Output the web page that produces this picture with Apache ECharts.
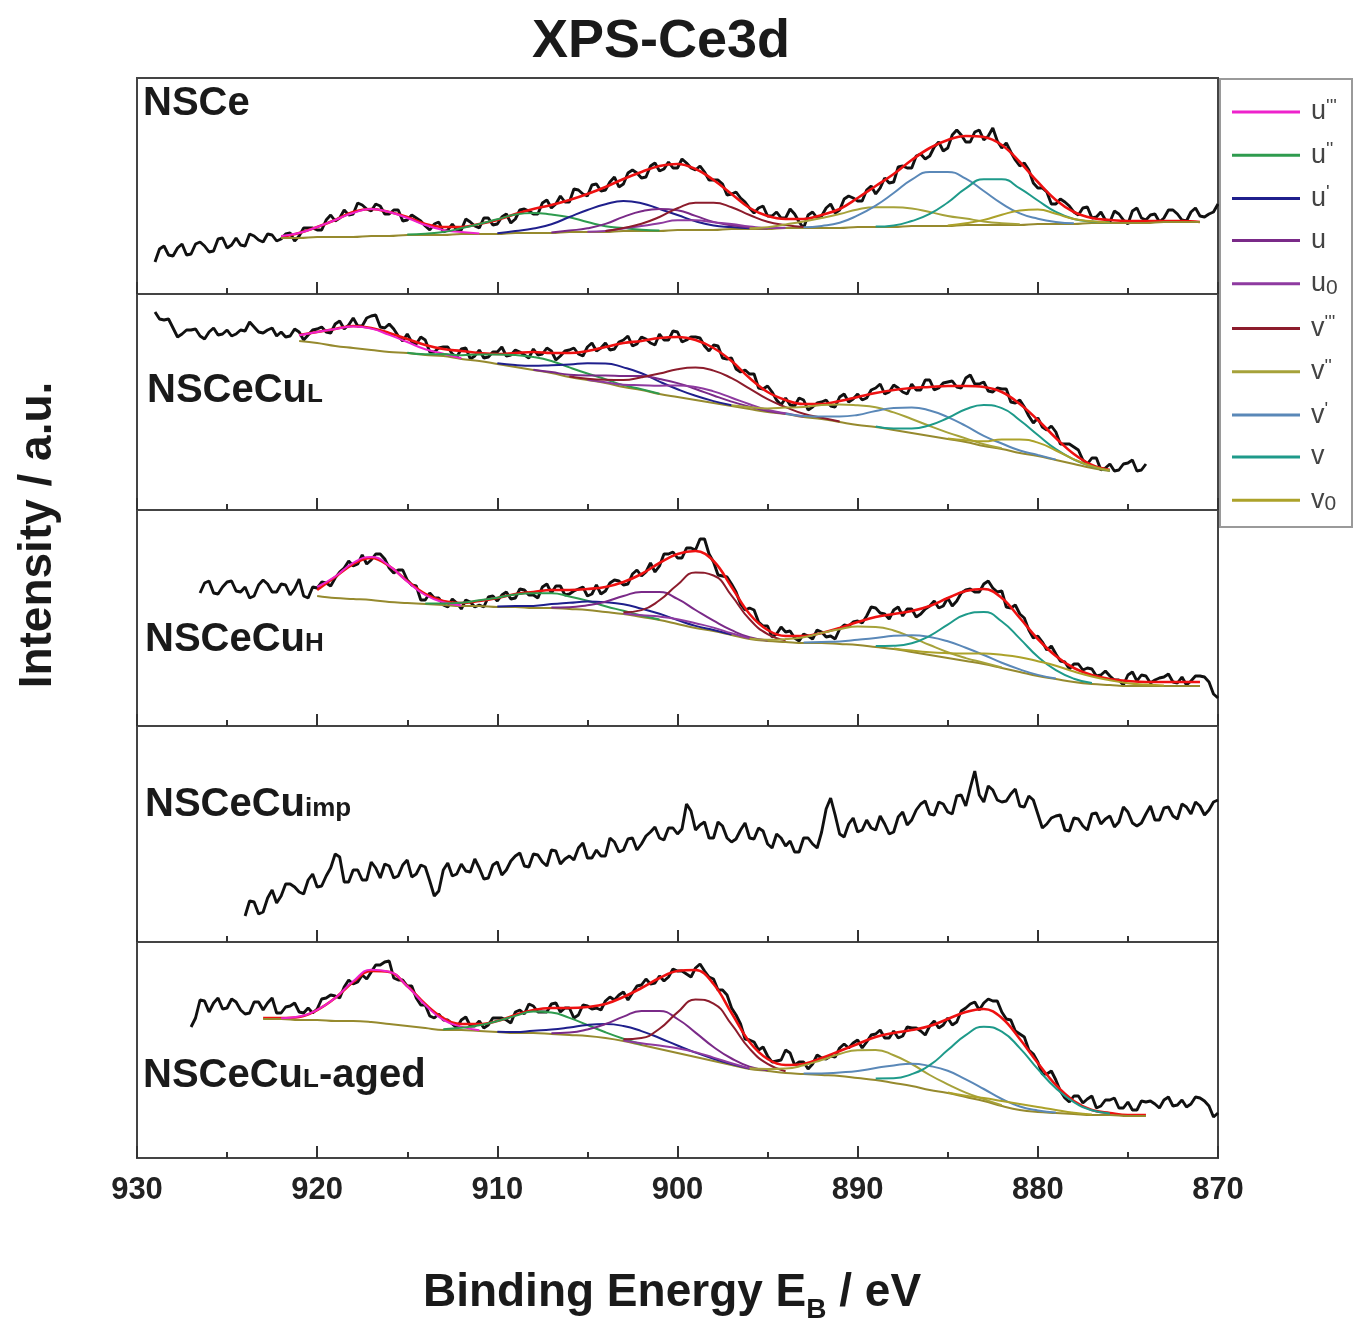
<!DOCTYPE html>
<html>
<head>
<meta charset="utf-8">
<title>XPS-Ce3d</title>
<script src="https://cdn.jsdelivr.net/npm/echarts@6.0.0/dist/echarts.min.js"></script>
<style>
  html, body { margin: 0; padding: 0; background: #fff; }
  #chart { width: 1354px; height: 1318px; }
</style>
</head>
<body>
<div id="chart"></div>
<script>
// ---------------------------------------------------------------
// Ce 3d XPS spectra of five samples with their peak deconvolution.
// Raw spectra are sampled every 0.25 eV (descending binding energy),
// background / envelope / peak components every 1 eV.
// Intensities are in arbitrary units (panel scale 0..216).
// ---------------------------------------------------------------
const RAW_STEP = 0.25;
const FIT_STEP = 1;

const PEAK_NAMES = ["u'''", "u''", "u'", "u", "u0", "v'''", "v''", "v'", "v", "v0"];
const PEAK_COLORS = ['#ee22cc', '#2e9b4e', '#1f1f8c', '#7a2a88', '#8e3aa0',
                     '#8c1c2c', '#a6a23a', '#5a88b8', '#1e9a8a', '#aca22a'];
const PANEL_LABELS = ['NSCe', 'NSCeCuL', 'NSCeCuH', 'NSCeCuimp', 'NSCeCuL-aged'];

// ---------- NSCe ----------
const NSCe_rawFrom = 929.0;
const NSCe_raw = [32,45,48,39,38,46,50,39,40,50,52,48,42,43,55,56,46,49,56,49,
  48,60,58,54,52,60,59,53,55,60,61,53,58,66,66,66,64,64,74,79,
  73,76,84,79,80,91,89,85,83,90,88,80,80,84,84,73,74,79,76,73,
  68,64,70,72,62,64,70,64,64,75,72,68,66,76,76,69,70,77,80,71,
  75,84,85,83,80,80,91,94,86,90,98,92,92,105,104,100,98,109,110,103,
  104,112,117,107,110,121,124,121,116,117,128,131,123,125,132,126,126,135,131,126,
  124,128,122,114,114,114,110,99,100,102,96,92,86,81,86,88,78,78,82,76,
  76,85,80,72,66,79,82,76,78,86,90,81,84,95,98,96,93,93,104,108,
  100,106,116,111,112,127,128,126,126,138,140,135,138,147,152,143,146,159,164,159,
  152,152,162,164,154,158,166,153,146,151,142,134,128,131,124,111,106,106,102,90,
  90,95,92,88,82,79,86,87,76,77,82,74,72,83,80,74,70,83,86,76,
  74,79,80,72,76,84,84,80,74,73,82,86,78,77,80,82,90];
const NSCe_fitFrom = 922;
const NSCe_bg = [56,56,57,57,57,58,58,59,59,59, 60,60,60,61,61,61,62,62,62,63,
  63,63,64,64,64,65,65,65,66,66, 66,66,67,67,67,68,68,68,69,69,
  69,69,70,70,70,71,71,71,71,72, 72,72];
const NSCe_env = [57,61,67,74,82,85,82,77,70,67, 67,70,74,80,85,89,94,100,107,115,
  122,128,130,125,114,100,86,78,75,75, 79,85,96,108,120,134,146,154,158,157,
  149,132,112,94,82,76,74,73,73,73, 73,72];
const NSCe_peakFrom = [922, 915, 910, 907, 905, 904, 896, 893, 889, 885];
const NSCe_u3 = [2,5,10,17,24,27,24,17,10,5,2,0.5];
const NSCe_u2 = [0.5,1.3,2.9,5.8,10,14.7,18.5,20,18.5,14.7,10,5.8,2.9,1.3,0.5];
const NSCe_u1 = [0.7,1.9,4.4,8.7,15,22,27.8,30,27.8,22,15,8.7,4.4,1.9,0.7];
const NSCe_u  = [0.4,1.4,3.7,8.1,14.1,19.7,22,19.7,14.1,8.1,3.7,1.4,0.4];
const NSCe_u0 = [0.35,1.1,2.6,5,7.8,9.7,9.7,7.8,5,2.6,1.1,0.35];
const NSCe_v3 = [1,3,7.2,14,21.8,27.2,27.2,21.8,14,7.2,3,1];
const NSCe_v2 = [0.8,1.8,3.6,6.4,10,14,17.6,19.7,19.7,17.6,14,10,6.4,3.6,1.8,0.8];
const NSCe_v1 = [0.7,2.1,5.3,11.6,21.4,34,46.3,54,54,46.3,34,21.4,11.6,5.3,2.1,0.7];
const NSCe_v  = [0.4,1.6,5,12.1,23.5,36.6,45.7,45.7,36.6,23.5,12.1,5,1.6,0.4];
const NSCe_v0 = [0.45,1.8,5.1,10.2,14.4,14.4,10.2,5.1,1.8,0.45];

// ---------- NSCeCuL ----------
const NSCeCuL_rawFrom = 929.0;
const NSCeCuL_raw = [198,191,190,191,182,173,176,180,180,181,174,171,178,182,175,176,180,174,176,180,
  179,188,183,178,177,180,182,174,178,173,174,181,178,170,175,180,181,183,178,177,
  186,189,181,185,192,184,184,192,194,195,183,182,186,181,174,169,176,168,166,173,
  170,158,158,162,163,163,156,153,161,162,151,154,160,152,153,158,158,163,154,155,
  160,158,155,152,161,155,156,162,159,150,154,159,160,162,156,154,163,167,159,162,
  167,160,161,168,170,174,164,166,173,171,167,165,176,170,170,179,178,168,170,173,
  173,172,164,159,165,164,152,151,152,141,138,140,136,136,122,121,124,118,110,105,
  112,105,104,112,110,100,103,107,108,110,104,103,113,116,108,111,116,110,112,120,
  122,126,116,118,125,122,118,116,126,120,120,130,130,120,122,127,128,129,123,122,
  132,135,126,126,128,119,118,122,121,121,108,107,110,103,94,87,92,83,80,84,
  78,66,66,66,63,60,50,46,52,52,40,42,46,39,40,46,47,50,39,40,
  46];
const NSCeCuL_fitFrom = 921;
const NSCeCuL_bg = [169,167,164,162,160,158,157,155,154,151, 149,146,143,140,137,133,130,127,123,120,
  116,113,110,107,104,101,98,96,93,91, 88,85,83,80,77,74,71,68,64,61,
  57,54,50,46,42,39];
const NSCeCuL_env = [175,178,181,184,182,177,171,165,161,159, 157,156,157,158,157,157,159,163,167,169,
  172,173,170,162,149,132,118,110,106,106, 109,113,117,120,122,123,124,124,123,118,
  106,90,72,56,45,40];
const NSCeCuL_peakFrom = [921, 915, 910, 908, 905, 906, 897, 894, 889, 885];
const NSCeCuL_u3 = [5.7,11,17.1,21.4,21.4,17.1,11,5.7,2.3,0.8];
const NSCeCuL_u2 = [0.3,0.8,1.9,3.8,6.5,9.6,12,13,12,9.6,6.5,3.8,1.9,0.8,0.3];
const NSCeCuL_u1 = [0.8,1.9,4.2,7.8,12.4,16.8,19.6,19.6,16.8,12.4,7.8,4.2,1.9,0.8];
const NSCeCuL_u  = [0.35,0.9,2.2,4.4,7.5,11,13.9,15,13.9,11,7.5,4.4,2.2,0.9,0.35];
const NSCeCuL_u0 = [0.2,0.8,2.2,4.8,8.3,11.6,13,11.6,8.3,4.8,2.2,0.8,0.2];
const NSCeCuL_v3 = [0.4,1.3,3.2,6.9,12.8,20.4,27.8,32.4,32.4,27.8,20.4,12.8,6.9,3.2,1.3,0.4];
const NSCeCuL_v2 = [0.8,1.8,3.6,6.4,10,14,17.6,19.7,19.7,17.6,14,10,6.4,3.6,1.8,0.8];
const NSCeCuL_v1 = [0.35,1,2.5,5.5,10.1,16.1,21.9,25.5,25.5,21.9,16.1,10.1,5.5,2.5,1,0.35];
const NSCeCuL_v  = [0.4,1.5,4.5,10.8,21,32.7,40.9,40.9,32.7,21,10.8,4.5,1.5,0.4];
const NSCeCuL_v0 = [0.4,1.7,4.7,9.5,13.4,13.4,9.5,4.7,1.7,0.4];

// ---------- NSCeCuH ----------
const NSCeCuH_rawFrom = 926.5;
const NSCeCuH_raw = [133,143,145,133,132,139,144,145,135,134,139,128,130,141,146,142,134,134,142,141,
  131,137,147,130,128,139,138,144,143,140,148,154,158,165,160,162,171,162,166,172,
  172,167,158,153,156,156,146,141,140,126,126,133,128,128,121,119,127,123,117,126,
  124,119,121,119,129,130,125,131,134,127,128,137,136,131,131,128,139,142,133,140,
  140,131,132,135,137,139,130,132,141,132,135,143,146,145,141,142,152,156,150,154,
  163,154,160,172,172,174,168,168,178,178,176,187,187,172,164,151,150,149,142,134,
  122,116,118,116,104,100,100,89,92,99,94,95,88,85,92,90,87,96,94,89,
  90,87,97,101,100,104,105,103,110,119,118,113,112,107,116,119,110,117,117,109,
  112,117,120,125,118,120,128,120,125,133,136,137,134,134,142,145,138,134,135,119,
  118,121,112,108,96,88,90,84,76,80,72,65,64,57,62,62,56,58,57,50,
  51,55,50,46,46,41,51,54,45,51,50,43,46,48,49,52,44,43,49,41,
  45,50,50,49,44,32,28];
const NSCeCuH_fitFrom = 920;
const NSCeCuH_bg = [130,128,127,126,124,123,122,121,120,120, 119,119,118,118,117,116,114,112,109,106,
  102,98,95,91,87,85,84,83,83,82, 81,79,77,74,71,68,65,62,58,54,
  50,47,44,42,41,40,40,40,40,40];
const NSCeCuH_env = [136,149,162,168,160,145,132,125,123,125, 128,132,134,136,136,137,139,144,152,163,
  172,175,165,139,112,96,90,90,93,98, 104,109,112,115,120,128,135,137,128,108,
  87,70,58,51,47,45,44,44,44,44];
const NSCeCuH_peakFrom = [920, 914, 910, 907, 903, 903, 896, 893, 889, 888];
const NSCeCuH_u3 = [9,21.5,36.2,43,36.2,21.5,9,2.7,0.6];
const NSCeCuH_u2 = [0.6,1.5,3.2,5.8,9.3,12.6,14.7,14.7,12.6,9.3,5.8,3.2,1.5,0.6];
const NSCeCuH_u1 = [0.4,1,2.1,3.9,6.2,8.4,9.8,9.8,8.4,6.2,3.9,2.1,1,0.4];
const NSCeCuH_u  = [0.5,1.75,4.8,10.3,18,25.1,28,25.1,18,10.3,4.8,1.75,0.5];
const NSCeCuH_u0 = [0.6,1.7,3.4,4.8,4.8,3.4,1.7,0.6];
const NSCeCuH_v3 = [1.7,6.9,19.7,39.3,55.5,55.5,39.3,19.7,6.9,1.7];
const NSCeCuH_v2 = [0.46,1.25,2.9,5.8,10,14.7,18.5,20,18.5,14.7,10,5.8,2.9,1.25,0.46];
const NSCeCuH_v1 = [0.4,1.1,2.6,5.2,9,13.2,16.7,18,16.7,13.2,9,5.2,2.6,1.1,0.4];
const NSCeCuH_v  = [0.94,3.25,8.8,19.2,33.4,46.5,52,46.5,33.4,19.2,8.8,3.25,0.94];
const NSCeCuH_v0 = [0.6,1.4,2.7,4.8,7.5,10.5,13.2,14.8,14.8,13.2,10.5,7.5,4.8,2.7,1.4,0.6];

// ---------- NSCeCuimp (no fit) ----------
const NSCeCuimp_rawFrom = 924.0;
const NSCeCuimp_raw = [26,41,40,28,30,44,52,39,46,58,58,55,50,48,62,68,55,56,66,74,
  88,85,60,60,72,72,62,62,80,74,64,78,76,64,66,77,82,65,68,77,
  75,61,46,51,72,79,66,68,78,71,70,83,74,63,64,77,80,67,72,81,
  86,89,76,75,88,87,80,76,92,91,78,83,86,82,94,99,84,84,92,86,
  86,104,100,90,92,103,104,92,98,106,110,115,104,102,114,114,108,113,138,131,
  112,117,120,104,104,120,116,104,100,103,112,119,104,103,114,111,98,94,108,104,
  96,101,90,90,104,104,98,94,110,133,144,127,108,105,118,124,110,112,122,114,
  112,126,118,108,110,125,130,117,122,132,138,141,128,127,140,138,130,128,146,147,
  136,154,171,147,140,156,152,142,140,141,148,153,136,135,146,142,128,114,118,124,
  126,127,112,111,124,123,116,112,128,129,118,123,126,115,120,135,130,119,116,119,
  128,136,122,122,134,135,126,123,138,135,128,140,136,127,132,140,142];

// ---------- NSCeCuL-aged ----------
const NSCeCuLaged_rawFrom = 927.0;
const NSCeCuLaged_raw = [131,140,158,157,146,155,160,149,150,159,156,148,144,145,156,156,148,155,160,145,
  145,151,152,155,146,145,150,145,149,159,160,163,162,160,171,178,174,176,183,179,
  186,193,193,196,197,180,178,178,172,172,160,153,153,142,140,144,138,138,134,130,
  138,141,132,132,137,130,133,140,140,140,138,135,146,148,144,154,152,146,146,146,
  154,155,146,150,150,140,143,153,152,149,150,148,157,161,158,163,166,158,165,172,
  173,179,174,175,182,177,181,189,187,187,184,181,190,194,187,181,179,168,168,163,
  150,143,134,119,118,116,108,111,102,96,97,98,108,105,93,96,96,89,94,103,
  100,99,102,101,110,114,110,115,118,110,116,123,124,128,120,120,127,120,122,131,
  130,130,127,123,132,137,130,133,140,133,136,147,150,154,156,148,155,159,157,157,
  146,139,138,127,124,121,108,104,96,84,84,87,78,67,60,56,62,62,55,59,
  62,50,52,58,58,60,50,50,56,48,48,57,56,57,54,50,58,61,52,53,
  58,51,54,61,60,57,52,41,45];
const NSCeCuLaged_fitFrom = 923;
const NSCeCuLaged_bg = [139,139,138,138,137,137,136,134,132,130, 128,128,127,126,125,125,124,123,122,120,
  117,113,109,105,101,97,93,89,87,85, 84,83,82,80,78,75,72,68,65,61,
  57,52,48,46,45,44,43,43,42,42];
const NSCeCuLaged_env = [140,140,141,148,160,176,187,186,172,154, 140,134,134,137,143,148,150,150,151,154,
  161,170,180,187,188,174,145,116,99,93, 94,100,107,114,121,125,128,132,139,146,
  149,140,119,95,73,57,48,45,43,43];
const NSCeCuLaged_peakFrom = [922, 913, 910, 907, 903, 903, 896, 893, 889, 885];
const NSCeCuLaged_u3 = [0.86,3.4,10.1,23,39.7,52.2,52.2,39.7,23,10.1,3.4,0.86];
const NSCeCuLaged_u2 = [0.8,2.3,5.7,11,17.1,21.4,21.4,17.1,11,5.7,2.3,0.8];
const NSCeCuLaged_u1 = [0.35,0.9,2.2,4.4,7.5,11,13.9,15,13.9,11,7.5,4.4,2.2,0.9,0.35];
const NSCeCuLaged_u  = [0.7,2.4,6.5,14,24.4,34,38,34,24.4,14,6.5,2.4,0.7];
const NSCeCuLaged_u0 = [0.6,1.7,3.4,4.8,4.8,3.4,1.7,0.6];
const NSCeCuLaged_v3 = [1.8,7.1,20.3,40.6,57.4,57.4,40.6,20.3,7.1,1.8];
const NSCeCuLaged_v2 = [0.7,1.9,4.4,8.7,15,22,27.8,30,27.8,22,15,8.7,4.4,1.9,0.7];
const NSCeCuLaged_v1 = [0.55,1.5,3.5,7,12,17.6,22.2,24,22.2,17.6,12,7,3.5,1.5,0.55];
const NSCeCuLaged_v  = [1.6,4.75,11.9,24.8,42.9,61.9,74.3,74.3,61.9,42.9,24.8,11.9,4.75,1.6];
const NSCeCuLaged_v0 = [0.4,1.26,3,5,6,5,3,1.26,0.4];

// ---------------------------------------------------------------
// Assemble the panels (top to bottom)
// ---------------------------------------------------------------
const panels = [
  { raw: NSCe_raw, rawFrom: NSCe_rawFrom, fitFrom: NSCe_fitFrom, bg: NSCe_bg, env: NSCe_env,
    peakFrom: NSCe_peakFrom,
    peaks: [NSCe_u3, NSCe_u2, NSCe_u1, NSCe_u, NSCe_u0, NSCe_v3, NSCe_v2, NSCe_v1, NSCe_v, NSCe_v0] },
  { raw: NSCeCuL_raw, rawFrom: NSCeCuL_rawFrom, fitFrom: NSCeCuL_fitFrom, bg: NSCeCuL_bg, env: NSCeCuL_env,
    peakFrom: NSCeCuL_peakFrom,
    peaks: [NSCeCuL_u3, NSCeCuL_u2, NSCeCuL_u1, NSCeCuL_u, NSCeCuL_u0, NSCeCuL_v3, NSCeCuL_v2, NSCeCuL_v1, NSCeCuL_v, NSCeCuL_v0] },
  { raw: NSCeCuH_raw, rawFrom: NSCeCuH_rawFrom, fitFrom: NSCeCuH_fitFrom, bg: NSCeCuH_bg, env: NSCeCuH_env,
    peakFrom: NSCeCuH_peakFrom,
    peaks: [NSCeCuH_u3, NSCeCuH_u2, NSCeCuH_u1, NSCeCuH_u, NSCeCuH_u0, NSCeCuH_v3, NSCeCuH_v2, NSCeCuH_v1, NSCeCuH_v, NSCeCuH_v0] },
  { raw: NSCeCuimp_raw, rawFrom: NSCeCuimp_rawFrom },
  { raw: NSCeCuLaged_raw, rawFrom: NSCeCuLaged_rawFrom, fitFrom: NSCeCuLaged_fitFrom, bg: NSCeCuLaged_bg, env: NSCeCuLaged_env,
    peakFrom: NSCeCuLaged_peakFrom,
    peaks: [NSCeCuLaged_u3, NSCeCuLaged_u2, NSCeCuLaged_u1, NSCeCuLaged_u, NSCeCuLaged_u0, NSCeCuLaged_v3, NSCeCuLaged_v2, NSCeCuLaged_v1, NSCeCuLaged_v, NSCeCuLaged_v0] }
];

// ---------------------------------------------------------------
// Layout
// ---------------------------------------------------------------
const FONT = '"Liberation Sans", Arial, Helvetica, sans-serif';
const PLOT_LEFT = 137, PLOT_RIGHT = 136, PANEL_TOP = 78, PANEL_H = 216;
const FRAME = '#444';

const grids = panels.map((p, i) => ({
  left: PLOT_LEFT, right: PLOT_RIGHT, top: PANEL_TOP + i * PANEL_H, height: PANEL_H,
  show: true, borderColor: FRAME, borderWidth: 2, backgroundColor: 'transparent'
}));

const xAxes = panels.map((p, i) => ({
  type: 'value', gridIndex: i, min: 870, max: 930, interval: 10, inverse: true,
  axisLine: { show: true, lineStyle: { color: FRAME, width: 2 } },
  axisTick: { show: true, inside: true, length: 12, lineStyle: { color: '#333', width: 2 } },
  minorTick: { show: true, splitNumber: 2, length: 6, lineStyle: { color: '#333', width: 2 } },
  splitLine: { show: false }, minorSplitLine: { show: false },
  axisLabel: { show: i === panels.length - 1, fontSize: 31, fontWeight: 'bold',
               fontFamily: FONT, color: '#222', margin: 17 }
}));

const yAxes = panels.map((p, i) => ({
  type: 'value', gridIndex: i, min: 0, max: PANEL_H, show: false
}));

// ---------------------------------------------------------------
// Series
// ---------------------------------------------------------------
const series = [];
panels.forEach((p, i) => {
  series.push({
    type: 'line', name: 'spectrum ' + PANEL_LABELS[i], xAxisIndex: i, yAxisIndex: i,
    data: p.raw.map((v, k) => [p.rawFrom - k * RAW_STEP, v]),
    symbol: 'none', lineStyle: { color: '#111', width: 2.9 }, z: 2, silent: true
  });
  if (!p.bg) return;
  series.push({
    type: 'line', name: 'envelope ' + PANEL_LABELS[i], xAxisIndex: i, yAxisIndex: i,
    data: p.env.map((v, k) => [p.fitFrom - k * FIT_STEP, v]),
    symbol: 'none', smooth: 0.4, lineStyle: { color: '#ee1111', width: 2.6 }, z: 3, silent: true
  });
  series.push({
    type: 'line', name: 'background ' + PANEL_LABELS[i], xAxisIndex: i, yAxisIndex: i,
    data: p.bg.map((v, k) => [p.fitFrom - k * FIT_STEP, v]),
    symbol: 'none', smooth: 0.4, lineStyle: { color: '#968a2e', width: 2 }, z: 4, silent: true
  });
  p.peaks.forEach((heights, j) => {
    const from = p.peakFrom[j];
    series.push({
      type: 'line', name: PEAK_NAMES[j], xAxisIndex: i, yAxisIndex: i,
      // each component sits on the background of its panel
      data: heights.map((h, k) => {
        const e = from - k * FIT_STEP;
        return [e, p.bg[Math.round((p.fitFrom - e) / FIT_STEP)] + h];
      }),
      symbol: 'none', smooth: 0.5, color: PEAK_COLORS[j],
      lineStyle: { color: PEAK_COLORS[j], width: 2 }, z: 5, silent: true
    });
  });
});

// ---------------------------------------------------------------
// Legend: one entry per component, stacked in a framed box
// ---------------------------------------------------------------
const LEGEND_LABEL = {
  "u'''": "{b|u}{p|'''}", "u''": "{b|u}{p|''}", "u'": "{b|u}{p|'}", "u": "{b|u}", "u0": "{b|u}{s|0}",
  "v'''": "{b|v}{p|'''}", "v''": "{b|v}{p|''}", "v'": "{b|v}{p|'}", "v": "{b|v}", "v0": "{b|v}{s|0}"
};
const LEGEND_RICH = {
  b: { fontSize: 27, fontFamily: FONT, color: '#444', lineHeight: 30 },
  p: { fontSize: 19, fontFamily: FONT, color: '#444', verticalAlign: 'top', lineHeight: 14 },
  s: { fontSize: 21, fontFamily: FONT, color: '#444', verticalAlign: 'bottom', lineHeight: 6 }
};
const LEGEND_FIRST = 112, LEGEND_STEP = 43.3;
const legends = PEAK_NAMES.map((n, j) => ({
  data: [n], orient: 'vertical', left: 1232, top: LEGEND_FIRST + j * LEGEND_STEP - 15,
  padding: 0, itemGap: 0, itemWidth: 68, itemHeight: 3, icon: 'rect', selectedMode: false,
  formatter: name => LEGEND_LABEL[name],
  textStyle: { fontSize: 27, fontFamily: FONT, color: '#444', padding: [0, 0, 0, 6], rich: LEGEND_RICH }
}));

// ---------------------------------------------------------------
// Text: title, axis names, panel names
// ---------------------------------------------------------------
const LABEL_RICH = {
  m: { fontSize: 40, fontWeight: 'bold', fontFamily: FONT, fill: '#1a1a1a', lineHeight: 48 },
  s: { fontSize: 26, fontWeight: 'bold', fontFamily: FONT, fill: '#1a1a1a', verticalAlign: 'bottom', padding: [0, 0, 7, 0] }
};
const PANEL_TEXT = ['{m|NSCe}', '{m|NSCeCu}{s|L}', '{m|NSCeCu}{s|H}', '{m|NSCeCu}{s|imp}', '{m|NSCeCu}{s|L}{m|-aged}'];
const PANEL_TEXT_POS = [[143, 104], [147, 391], [145, 640], [145, 805], [143, 1076]];

const graphics = [
  { type: 'text', x: 661, y: 42, silent: true,
    style: { text: 'XPS-Ce3d', font: 'bold 54px ' + FONT, fill: '#1a1a1a', align: 'center', verticalAlign: 'middle' } },
  { type: 'text', x: 38, y: 535, rotation: Math.PI / 2, silent: true,
    style: { text: 'Intensity / a.u.', font: 'bold 46px ' + FONT, fill: '#1a1a1a', align: 'center', verticalAlign: 'middle' } },
  { type: 'text', x: 672, y: 1293, silent: true,
    style: { text: '{m|Binding Energy E}{s|B}{m| / eV}', align: 'center', verticalAlign: 'middle',
      rich: {
        m: { fontSize: 46, fontWeight: 'bold', fontFamily: FONT, fill: '#1a1a1a', lineHeight: 62 },
        s: { fontSize: 28, fontWeight: 'bold', fontFamily: FONT, fill: '#1a1a1a', verticalAlign: 'bottom' }
      } } },
  { type: 'rect', silent: true, z: 10,
    shape: { x: 1220, y: 79, width: 132, height: 448 },
    style: { fill: 'none', stroke: '#9a9a9a', lineWidth: 2 } }
];
PANEL_TEXT.forEach((t, i) => {
  graphics.push({ type: 'text', x: PANEL_TEXT_POS[i][0], y: PANEL_TEXT_POS[i][1], silent: true, z: 20,
    style: { text: t, rich: LABEL_RICH, align: 'left', verticalAlign: 'middle' } });
});

const chart = echarts.init(document.getElementById('chart'), null, { renderer: 'canvas' });
chart.setOption({
  animation: false,
  backgroundColor: '#fff',
  grid: grids,
  xAxis: xAxes,
  yAxis: yAxes,
  legend: legends,
  graphic: graphics,
  series: series
});
</script>
</body>
</html>
